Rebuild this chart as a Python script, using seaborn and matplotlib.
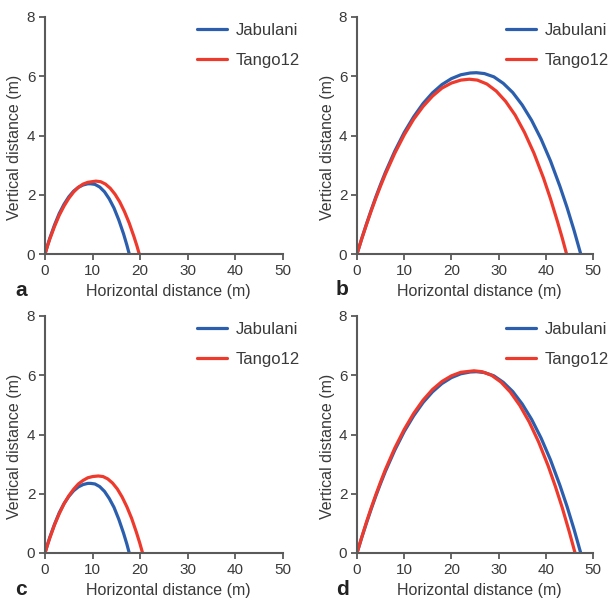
import numpy as np
import pandas as pd
import matplotlib
matplotlib.use("Agg")
import matplotlib.pyplot as plt
import seaborn as sns

# ---------------- data ----------------
balls = ["Jabulani", "Tango12"]
panels = ["a", "b", "c", "d"]

# Panel a
a_jab_x = [0, 0.5, 1, 2, 3, 4, 5, 6, 7, 8, 9, 9.6, 10.5, 11.5, 12.5, 13.5, 14.5, 15.5, 16.5, 17.2, 17.7]
a_jab_y = [0, 0.27, 0.53, 0.98, 1.37, 1.68, 1.93, 2.12, 2.25, 2.33, 2.37, 2.37, 2.35, 2.26, 2.10, 1.86, 1.55, 1.15, 0.68, 0.30, 0]
a_tan_x = [0, 0.5, 1, 2, 3, 4, 5, 6, 7, 8, 9, 10.7, 11.7, 12.7, 13.7, 14.7, 15.7, 16.7, 17.7, 18.7, 19.3, 19.8]
a_tan_y = [0, 0.26, 0.50, 0.93, 1.31, 1.62, 1.88, 2.09, 2.25, 2.36, 2.42, 2.46, 2.44, 2.36, 2.22, 2.02, 1.76, 1.43, 1.04, 0.58, 0.28, 0]

# Panel b
b_jab_x = [0, 1, 2, 3, 4, 5, 6, 8, 10, 12, 14, 16, 18, 20, 22, 24, 25.3, 27, 29, 31, 33, 35, 37, 39, 41, 43, 44.5, 46, 47.4]
b_jab_y = [0, 0.52, 1.01, 1.48, 1.93, 2.35, 2.75, 3.47, 4.10, 4.63, 5.08, 5.44, 5.72, 5.92, 6.05, 6.11, 6.12, 6.09, 5.98, 5.76, 5.45, 5.03, 4.51, 3.88, 3.14, 2.28, 1.57, 0.79, 0]
b_tan_x = [0, 1, 2, 3, 4, 5, 6, 8, 10, 12, 14, 16, 18, 20, 22, 23.8, 25.5, 27.5, 29.5, 31.5, 33.5, 35.5, 37.5, 39.5, 41, 42.5, 43.5, 44.4]
b_tan_y = [0, 0.51, 0.99, 1.45, 1.89, 2.30, 2.69, 3.40, 4.02, 4.55, 4.98, 5.33, 5.60, 5.77, 5.87, 5.90, 5.87, 5.74, 5.50, 5.15, 4.69, 4.10, 3.40, 2.57, 1.86, 1.08, 0.53, 0]

# Panel c
c_jab_x = [0, 0.5, 1, 2, 3, 4, 5, 6, 7, 8, 9, 9.6, 10.5, 11.5, 12.5, 13.5, 14.5, 15.5, 16.5, 17.2, 17.7]
c_jab_y = [0, 0.27, 0.53, 0.97, 1.36, 1.67, 1.91, 2.10, 2.23, 2.31, 2.35, 2.35, 2.33, 2.24, 2.08, 1.84, 1.54, 1.14, 0.67, 0.30, 0]
c_tan_x = [0, 0.5, 1, 2, 3, 4, 5, 6, 7, 8, 9, 10, 11.2, 12.2, 13.2, 14.2, 15.2, 16.2, 17.2, 18.2, 19.2, 19.9, 20.5]
c_tan_y = [0, 0.26, 0.50, 0.95, 1.33, 1.66, 1.93, 2.15, 2.33, 2.45, 2.54, 2.58, 2.60, 2.58, 2.50, 2.36, 2.16, 1.89, 1.56, 1.17, 0.70, 0.34, 0]

# Panel d
d_jab_x = [0, 1, 2, 3, 4, 5, 6, 8, 10, 12, 14, 16, 18, 20, 22, 24, 25.3, 27, 29, 31, 33, 35, 37, 39, 41, 43, 44.5, 46, 47.4]
d_jab_y = [0, 0.52, 1.01, 1.48, 1.93, 2.35, 2.75, 3.47, 4.10, 4.63, 5.08, 5.44, 5.72, 5.92, 6.05, 6.11, 6.12, 6.09, 5.98, 5.76, 5.45, 5.03, 4.51, 3.88, 3.14, 2.28, 1.57, 0.79, 0]
d_tan_x = [0, 1, 2, 3, 4, 5, 6, 8, 10, 12, 14, 16, 18, 20, 22, 24.8, 26.5, 28.5, 30.5, 32.5, 34.5, 36.5, 38.5, 40.5, 42, 43.5, 45, 46.2]
d_tan_y = [0, 0.53, 1.04, 1.52, 1.97, 2.40, 2.81, 3.54, 4.17, 4.71, 5.16, 5.52, 5.79, 5.98, 6.10, 6.15, 6.12, 6.00, 5.77, 5.43, 4.98, 4.42, 3.74, 2.94, 2.26, 1.52, 0.70, 0]

x_ticks = [0, 10, 20, 30, 40, 50]
y_ticks = [0, 2, 4, 6, 8]
x_label = "Horizontal distance (m)"
y_label = "Vertical distance (m)"

series = {
    "a": [(a_jab_x, a_jab_y), (a_tan_x, a_tan_y)],
    "b": [(b_jab_x, b_jab_y), (b_tan_x, b_tan_y)],
    "c": [(c_jab_x, c_jab_y), (c_tan_x, c_tan_y)],
    "d": [(d_jab_x, d_jab_y), (d_tan_x, d_tan_y)],
}

rows = []
for p in panels:
    for ball, (xs, ys) in zip(balls, series[p]):
        for i, (xv, yv) in enumerate(zip(xs, ys)):
            rows.append({"panel": p, "ball": ball, "order": i, "x": xv, "y": yv})
df = pd.DataFrame(rows)

# ---------------- style ----------------
sns.set_style("ticks")
plt.rcParams["font.family"] = ["Liberation Sans", "DejaVu Sans"]
gray = "#5a5a5a"
text_col = "#3a3a3a"
palette = {"Jabulani": "#2b5fae", "Tango12": "#ee3a2c"}

W, H = 612, 602
fig = plt.figure(figsize=(W / 100, H / 100), dpi=100)

# axes pixel boxes: (left, top, right, bottom)
boxes = {
    "a": (45, 17, 283, 254),
    "b": (357, 17, 593, 254),
    "c": (45, 316, 283, 553),
    "d": (357, 316, 593, 553),
}
legend_x = {"a": 197, "b": 506, "c": 197, "d": 506}
letter_pos = {"a": (15, 296), "b": (336, 295), "c": (15, 595), "d": (336, 595)}

for p in panels:
    l, t, r, b = boxes[p]
    ax = fig.add_axes([l / W, 1 - b / H, (r - l) / W, (b - t) / H])
    sub = df[df["panel"] == p]
    sns.lineplot(data=sub, x="x", y="y", hue="ball", hue_order=balls,
                 palette=palette, sort=False, estimator=None, lw=2.3,
                 ax=ax)
    ax.set_xlim(0, 50)
    ax.set_ylim(0, 8)
    ax.set_xticks(x_ticks)
    ax.set_yticks(y_ticks)
    for s in ["top", "right"]:
        ax.spines[s].set_visible(False)
    for s in ["left", "bottom"]:
        ax.spines[s].set_color(gray)
        ax.spines[s].set_linewidth(1.5)
    ax.tick_params(colors=gray, width=1.3, length=4, labelsize=11,
                   labelcolor=text_col, pad=3)
    ax.set_xlabel(x_label, fontsize=11.5, color=text_col)
    ax.set_ylabel(y_label, fontsize=11.5, color=text_col)
    ax.xaxis.set_label_coords(0.52, -0.125)
    ax.yaxis.set_label_coords(-0.095, 0.45)
    lx_frac = (legend_x[p] - l) / (r - l)
    leg = ax.legend(loc="upper left", bbox_to_anchor=(lx_frac, 0.975),
                    frameon=False, fontsize=12, handlelength=1.8,
                    handletextpad=0.5, labelspacing=0.9, borderpad=0,
                    borderaxespad=0)
    for line in leg.get_lines():
        line.set_linewidth(2.3)
    for txt in leg.get_texts():
        txt.set_color(text_col)
    lx, ly = letter_pos[p]
    fig.text(lx / W, 1 - ly / H, p, fontsize=15, fontweight="bold",
             color="#222222", ha="left", va="baseline")

fig.savefig("out.png", dpi=100)
